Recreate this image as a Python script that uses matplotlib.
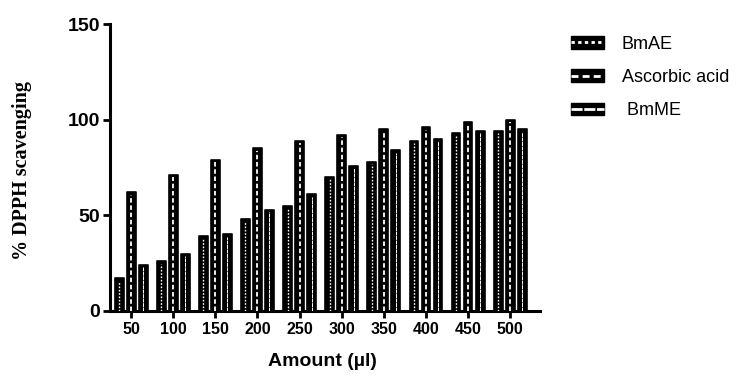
import numpy as np
import matplotlib.pyplot as plt
from matplotlib.patches import Patch
from matplotlib.lines import Line2D
from matplotlib.legend_handler import HandlerTuple

amounts = ['50', '100', '150', '200', '250', '300', '350', '400', '450', '500']
bmae = [17, 26, 39, 48, 55, 70, 78, 89, 93, 94]
ascorbic = [62, 71, 79, 85, 89, 92, 95, 96, 99, 100]
bmme = [24, 30, 40, 53, 61, 76, 84, 90, 94, 95]

series = [
    ('BmAE', bmae, -0.285, (0, (1.2, 1.2)), 1.0),
    ('Ascorbic acid', ascorbic, 0.0, (0, (2.5, 1.5)), 1.3),
    (' BmME', bmme, 0.285, (0, (4, 0.6)), 0.7),
]
barWidth = 0.21

fig = plt.figure(figsize=(7.46, 3.76), dpi=100)
ax = fig.add_axes([0.1475, 0.173, 0.5765, 0.763])

x = np.arange(len(amounts))
handles = []
for name, values, offset, dash, lw in series:
    ax.bar(x + offset, values, width=barWidth, color='black', edgecolor='black',
           linewidth=1.2, joinstyle='round', zorder=2)
    ax.vlines(x + offset, 0, np.array(values) - 1.2, colors='white',
              linestyles=dash, linewidth=lw, zorder=3)
    handles.append((Patch(facecolor='black', edgecolor='black'),
                    Line2D([], [], color='white', linestyle=dash, linewidth=2)))

ax.set_xlim(-0.5, 9.71)
ax.set_ylim(0, 150)
ax.set_yticks([0, 50, 100, 150])
ax.set_xticks(x)
ax.set_xticklabels(amounts)

for side in ['top', 'right']:
    ax.spines[side].set_visible(False)
for side in ['left', 'bottom']:
    ax.spines[side].set_linewidth(2.2)

ax.tick_params(axis='y', width=2, length=5, labelsize=14, pad=2)
ax.tick_params(axis='x', width=2, length=5, labelsize=11.5, pad=3)
for lbl in ax.get_yticklabels() + ax.get_xticklabels():
    lbl.set_fontfamily('Liberation Sans')
    lbl.set_fontweight('bold')

ax.set_xlabel('Amount (µl)', fontfamily='Liberation Sans', fontweight='bold',
              fontsize=14)
ax.xaxis.set_label_coords(0.495, -0.145)
ax.set_ylabel('% DPPH scavenging', fontfamily='Liberation Serif', fontweight='bold',
              fontsize=14.5)
ax.yaxis.set_label_coords(-0.205, 0.49, transform=ax.transAxes)
ax.yaxis.label.set_verticalalignment('center')

fig.legend(handles, [s[0] for s in series],
           handler_map={tuple: HandlerTuple(ndivide=1, pad=0)},
           loc='upper left', bbox_to_anchor=(0.743, 0.948), frameon=False,
           prop={'family': 'Liberation Sans', 'size': 13},
           handlelength=1.85, handleheight=0.7, labelspacing=0.9, handletextpad=1.0)

fig.savefig('out.png', dpi=100)
